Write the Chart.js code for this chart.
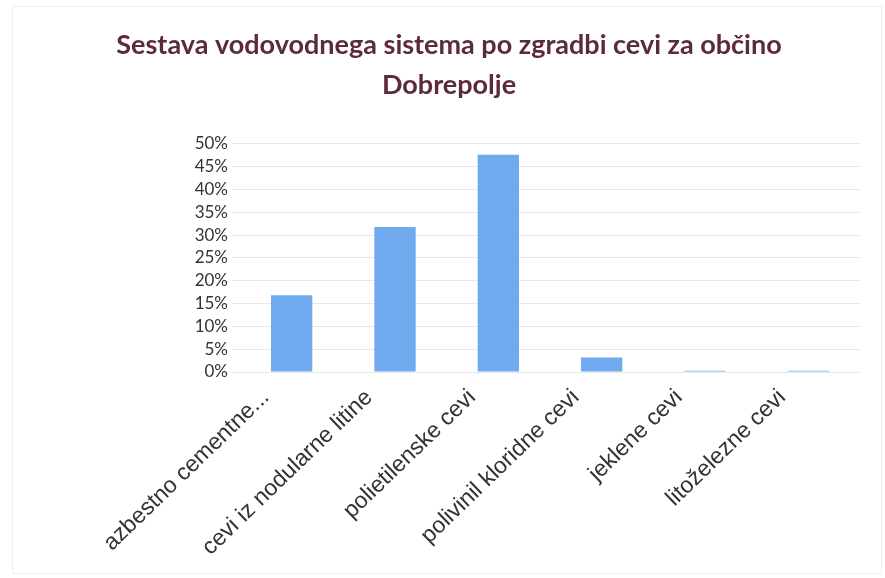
<!DOCTYPE html>
<html>
<head>
<meta charset="utf-8">
<script src="https://cdn.jsdelivr.net/npm/chart.js@4/dist/chart.umd.min.js"></script>
<style>
  html, body { margin: 0; padding: 0; background: #ffffff; }
  #wrap { position: absolute; left: 12px; top: 6px; width: 870px; height: 568px; border: 1px solid #eeeeee; box-sizing: border-box; }
  #c { position: absolute; left: 0; top: 0; }
</style>
</head>
<body>
<div id="wrap"></div>
<canvas id="c" width="885" height="578"></canvas>
<script>
const titleLines = ["Sestava vodovodnega sistema po zgradbi cevi za občino", "Dobrepolje"];
const categories = ["azbestno cementne...", "cevi iz nodularne litine", "polietilenske cevi", "polivinil kloridne cevi", "jeklene cevi", "litoželezne cevi"];
const shares = [0.168, 0.318, 0.476, 0.032, 0.003, 0.003];
const yTicks = [0, 0.05, 0.10, 0.15, 0.20, 0.25, 0.30, 0.35, 0.40, 0.45, 0.50];

new Chart(document.getElementById('c'), {
  type: 'bar',
  data: {
    labels: categories,
    datasets: [{
      data: shares,
      backgroundColor: function(ctx) {
        const chart = ctx.chart;
        const el = chart.getDatasetMeta(0).data[ctx.dataIndex];
        if (!el || !isFinite(el.x) || !el.width) return '#6faaee';
        const g = chart.ctx.createLinearGradient(el.x - el.width / 2, 0, el.x + el.width / 2, 0);
        g.addColorStop(0, '#8cc2f6');
        g.addColorStop(0.6, '#72aef0');
        g.addColorStop(1, '#5a97e2');
        return g;
      },
      borderWidth: 0,
      barPercentage: 0.4,
      categoryPercentage: 1.0
    }]
  },
  options: {
    responsive: false,
    animation: false,
    layout: { padding: { left: 38, right: 25, top: 0, bottom: 4 } },
    plugins: {
      legend: { display: false },
      tooltip: { enabled: false },
      title: {
        display: true,
        text: titleLines,
        color: '#5b2b3c',
        font: { family: 'Lato', size: 27, weight: 'bold', lineHeight: 1.48 },
        padding: { top: 25, bottom: 39 }
      }
    },
    scales: {
      x: {
        grid: { display: false },
        border: { display: false },
        afterFit: function(axis) { axis.height = 202; },
        ticks: {
          color: '#333333',
          font: { family: 'Liberation Sans', size: 23 },
          minRotation: 44,
          maxRotation: 44,
          autoSkip: false,
          padding: 4,
          labelOffset: -26
        }
      },
      y: {
        min: 0,
        max: 0.5,
        afterBuildTicks: function(axis) { axis.ticks = yTicks.map(v => ({ value: v })); },
        afterFit: function(axis) { axis.width = 202; },
        grid: { color: '#e8e8e8', drawTicks: true, tickLength: 8, tickColor: '#e8e8e8' },
        border: { display: false },
        ticks: {
          autoSkip: false,
          color: '#3a3030',
          font: { family: 'Lato', size: 17 },
          padding: 4,
          callback: v => Math.round(v * 100) + '%'
        }
      }
    }
  }
});
</script>
</body>
</html>
